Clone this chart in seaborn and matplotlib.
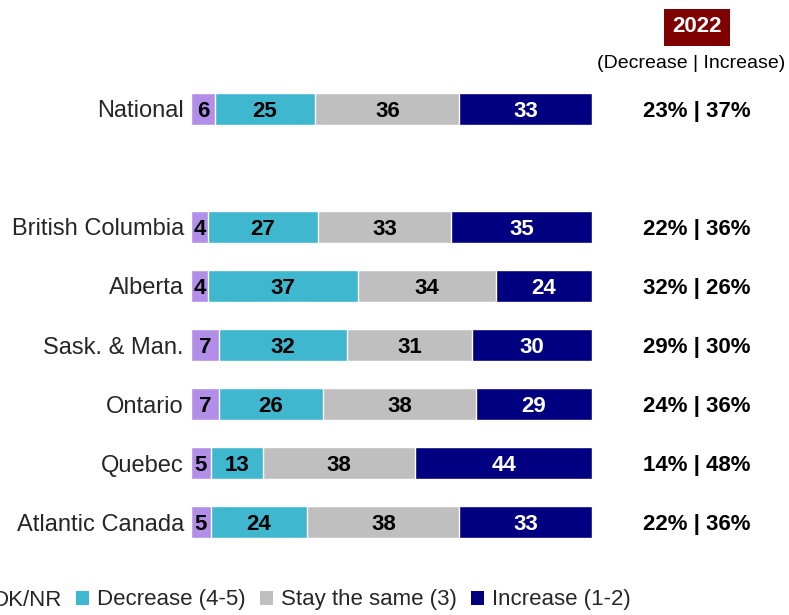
import numpy as np
import pandas as pd
import matplotlib
matplotlib.use("Agg")
import matplotlib.pyplot as plt
import matplotlib.transforms as mtransforms
from matplotlib.patches import Patch
import seaborn as sns

# Daten (BC und Alberta: ungerundete Schaetzwerte, Anzeige gerundet)
regions = ["National", "British Columbia", "Alberta", "Sask. & Man.", "Ontario", "Quebec", "Atlantic Canada"]
dk_nr = [6, 4.3, 4.2, 7, 7, 5, 5]
decrease = [25, 27.4, 37.4, 32, 26, 13, 24]
stay_same = [36, 33.3, 34.4, 31, 38, 38, 38]
increase = [33, 35.0, 24.0, 30, 29, 44, 33]
summary_2022 = ["23% | 37%", "22% | 36%", "32% | 26%", "29% | 30%", "24% | 36%", "14% | 48%", "22% | 36%"]

series_names = ["DK/NR", "Decrease (4-5)", "Stay the same (3)", "Increase (1-2)"]
colors = ["#B38EE8", "#3FB8CF", "#BFBFBF", "#000080"]
text_colors = ["black", "black", "black", "white"]

sns.set_theme(style="white")
plt.rcParams["font.family"] = ["Liberation Sans", "DejaVu Sans"]

df = pd.DataFrame({"region": regions, "DK/NR": dk_nr, "Decrease (4-5)": decrease,
                   "Stay the same (3)": stay_same, "Increase (1-2)": increase})
# Platzhalter-Kategorie fuer die Luecke nach "National"
order = ["National", " "] + regions[1:]

fig = plt.figure(figsize=(7.89, 6.15), dpi=100)
ax = fig.add_axes([0.242, 0.103, 0.508, 0.768])

cum = df[series_names].cumsum(axis=1)
# von hinten nach vorne zeichnen, damit die Segmente gestapelt wirken
for i in range(len(series_names) - 1, -1, -1):
    sns.barplot(x=cum[series_names[i]], y=df["region"], order=order, color=colors[i],
                width=0.55, orient="h", saturation=1, ax=ax)

ypos = {r: order.index(r) for r in regions}
for i, name in enumerate(series_names):
    starts = cum[name] - df[name]
    for r, s, v in zip(regions, starts, df[name]):
        ax.text(s + v / 2, ypos[r], f"{v:.0f}", ha="center", va="center_baseline",
                fontsize=16, fontweight="bold", color=text_colors[i])

ax.set_xlim(0, 100)
ax.set_ylim(len(order) - 0.5, -0.5)
ax.set_xlabel("")
ax.set_ylabel("")
ax.set_xticks([])
ax.tick_params(axis="y", length=0, pad=5, labelsize=17)
for sp in ax.spines.values():
    sp.set_visible(False)

# rechte Spalte
trans = mtransforms.blended_transform_factory(ax.transAxes, ax.transData)
for r, s in zip(regions, summary_2022):
    ax.text(1.262, ypos[r], s, transform=trans, ha="center", va="center_baseline",
            fontsize=16, fontweight="bold", color="black")

fig.text(697 / 789, 1 - 27 / 615, "2022", ha="center", va="center", fontsize=16,
         fontweight="bold", color="white",
         bbox=dict(boxstyle="square,pad=0.36", facecolor="#7F0000", edgecolor="none"))
fig.text(691 / 789, 1 - 63 / 615, "(Decrease | Increase)", ha="center", va="center",
         fontsize=14, color="black")

handles = [Patch(facecolor=c, edgecolor="none") for c in colors]
fig.legend(handles, series_names, loc="center left", bbox_to_anchor=(-0.048, 1 - 600 / 615),
           ncol=4, frameon=False, fontsize=16, handlelength=0.6, handleheight=0.6,
           handletextpad=0.36, columnspacing=0.63, borderaxespad=0)

fig.savefig("out.png", dpi=100)
